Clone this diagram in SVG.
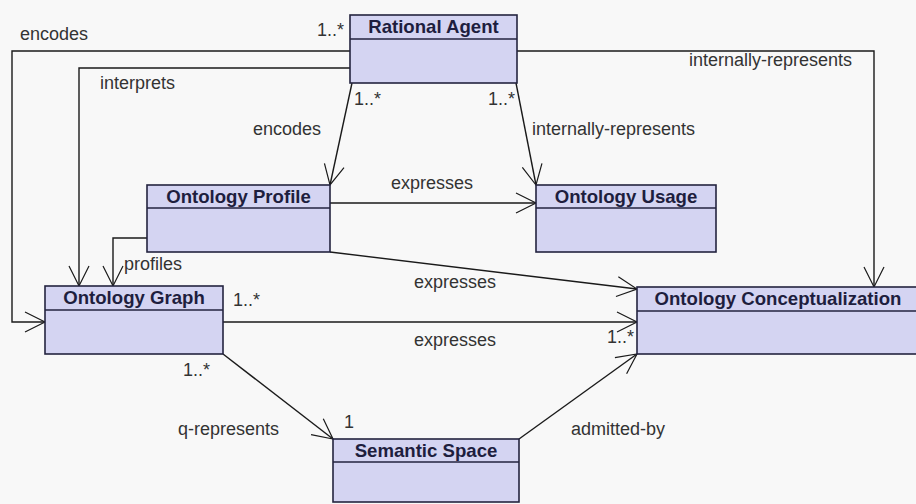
<svg xmlns="http://www.w3.org/2000/svg" width="916" height="504" viewBox="0 0 916 504">
<defs>
<style>
.box{fill:#d4d4f2;stroke:#23233f;stroke-width:1.6}
.div{stroke:#23233f;stroke-width:1.4}
.title{font-family:"Liberation Sans",Arial,sans-serif;font-weight:bold;font-size:18.6px;fill:#1e1e3e;text-anchor:middle}
.lbl{font-family:"Liberation Sans",Arial,sans-serif;font-size:18px;fill:#333}
.con{fill:none;stroke:#1a1a1a;stroke-width:1.4;marker-end:url(#arr)}
</style>
<marker id="arr" viewBox="0 0 24 24" markerWidth="24" markerHeight="24" refX="22" refY="12" orient="auto" markerUnits="userSpaceOnUse">
<path d="M2,2 L22,12 L2,22" fill="none" stroke="#1a1a1a" stroke-width="1.2"/>
</marker>
</defs>
<rect width="916" height="504" fill="#f8f8f8"/>
<g id="connectors">
<polyline class="con" points="350,51 12,51 12,322 45,322"/>
<polyline class="con" points="350,68 79,68 79,286"/>
<polyline class="con" points="517,51 874,51 874,287"/>
<line class="con" x1="352" y1="83" x2="330" y2="185"/>
<line class="con" x1="516" y1="83" x2="536" y2="185"/>
<line class="con" x1="330" y1="203" x2="536" y2="203"/>
<polyline class="con" points="147,238 113,238 113,286"/>
<line class="con" x1="330" y1="252" x2="637" y2="289"/>
<line class="con" x1="223" y1="322" x2="637" y2="322"/>
<line class="con" x1="223" y1="354" x2="333" y2="439"/>
<line class="con" x1="519" y1="439" x2="637" y2="354"/>
<text class="lbl" x="20" y="40">encodes</text>
<text class="lbl" x="317" y="36">1..*</text>
<text class="lbl" x="100" y="89">interprets</text>
<text class="lbl" x="253" y="135">encodes</text>
<text class="lbl" x="354" y="105">1..*</text>
<text class="lbl" x="488" y="105">1..*</text>
<text class="lbl" x="532" y="135">internally-represents</text>
<text class="lbl" x="689" y="66">internally-represents</text>
<text class="lbl" x="391" y="189">expresses</text>
<text class="lbl" x="124" y="270">profiles</text>
<text class="lbl" x="414" y="288">expresses</text>
<text class="lbl" x="414" y="346">expresses</text>
<text class="lbl" x="233" y="306">1..*</text>
<text class="lbl" x="607" y="343">1..*</text>
<text class="lbl" x="183" y="376">1..*</text>
<text class="lbl" x="344" y="428">1</text>
<text class="lbl" x="178" y="435">q-represents</text>
<text class="lbl" x="571" y="435">admitted-by</text>
</g>
<g id="rational-agent">
<rect class="box" x="350" y="15" width="167" height="68"/>
<line class="div" x1="350" y1="39" x2="517" y2="39"/>
<text class="title" x="433.5" y="33">Rational Agent</text>
</g>
<g id="ontology-profile">
<rect class="box" x="147" y="185" width="183" height="67"/>
<line class="div" x1="147" y1="208" x2="330" y2="208"/>
<text class="title" x="238.5" y="203">Ontology Profile</text>
</g>
<g id="ontology-usage">
<rect class="box" x="536" y="185" width="180" height="67"/>
<line class="div" x1="536" y1="208" x2="716" y2="208"/>
<text class="title" x="626" y="203">Ontology Usage</text>
</g>
<g id="ontology-graph">
<rect class="box" x="45" y="286" width="178" height="68"/>
<line class="div" x1="45" y1="310" x2="223" y2="310"/>
<text class="title" x="134" y="304">Ontology Graph</text>
</g>
<g id="ontology-conceptualization">
<rect class="box" x="637" y="287" width="285" height="67"/>
<line class="div" x1="637" y1="311" x2="922" y2="311"/>
<text class="title" x="778" y="305">Ontology Conceptualization</text>
</g>
<g id="semantic-space">
<rect class="box" x="333" y="439" width="186" height="63"/>
<line class="div" x1="333" y1="462" x2="519" y2="462"/>
<text class="title" x="426" y="457">Semantic Space</text>
</g>
</svg>
